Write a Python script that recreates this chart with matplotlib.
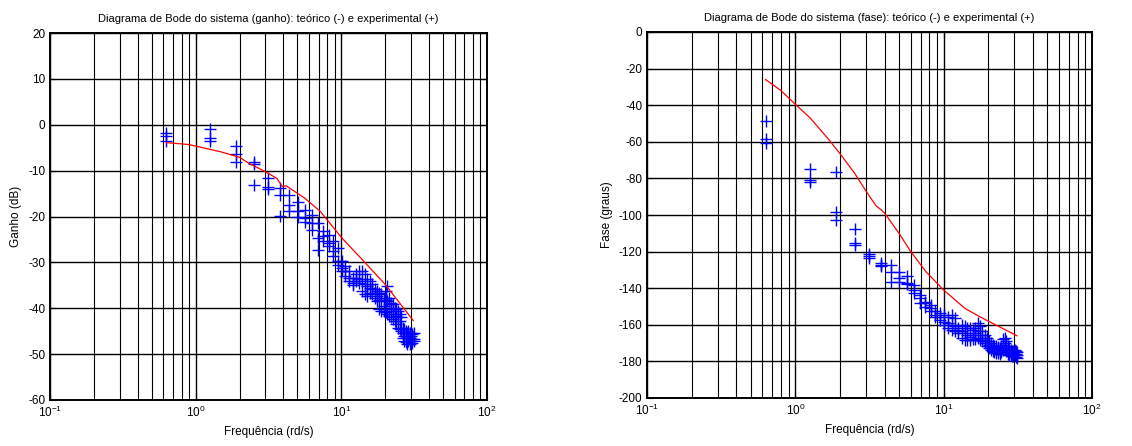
import numpy as np
import matplotlib.pyplot as plt
from matplotlib.ticker import LogLocator, NullFormatter, MultipleLocator

plt.rcParams['font.family'] = ['Liberation Sans', 'DejaVu Sans']
plt.rcParams['font.size'] = 8
plt.rcParams['axes.unicode_minus'] = False

# experimental frequencies (rad/s), 3 measurements each
wexp = [0.63, 1.26, 1.88, 2.51, 3.14, 3.77, 4.40, 5.03, 5.65, 6.28,
        6.91, 7.54, 8.17, 8.80, 9.42, 10.05, 10.68, 11.31, 11.94, 12.57,
        13.19, 13.82, 14.45, 15.08, 15.71, 16.34, 16.96, 17.59, 18.22, 18.85,
        19.48, 20.11, 20.73, 21.36, 21.99, 22.62, 23.25, 23.88, 24.50, 25.13,
        25.76, 26.39, 27.02, 27.65, 28.27, 28.90, 29.53, 30.16, 30.79, 31.42]

gain_exp = [(-1.8, -2.4, -3.6), (-1.0, -2.9, -3.6), (-4.7, -6.3, -8.1), (-8.1, -8.6, -13.1),
            (-11.7, -13.5, -14.0), (-13.7, -15.3, -19.8), (-15.3, -17.5, -18.9), (-16.9, -18.9, -20.0),
            (-18.6, -20.4, -21.1), (-19.6, -21.4, -22.9), (-21.4, -24.7, -27.2), (-23.2, -24.3, -25.4),
            (-24.0, -25.8, -26.5), (-25.4, -27.6, -28.7), (-26.9, -29.7, -30.5), (-29.7, -31.2, -31.9),
            (-30.8, -31.9, -33.0), (-31.9, -33.4, -34.1), (-33.4, -34.4, -35.0), (-32.6, -33.4, -34.1),
            (-31.9, -33.7, -34.5), (-31.9, -34.1, -36.2), (-32.6, -34.8, -37.0), (-33.7, -35.2, -37.3),
            (-34.1, -35.5, -36.6), (-34.8, -35.9, -37.0), (-35.9, -36.6, -37.7), (-36.2, -37.3, -38.4),
            (-36.6, -38.1, -40.2), (-37.0, -38.4, -40.6), (-37.7, -39.5, -40.6), (-36.2, -38.1, -40.9),
            (-35.2, -38.4, -41.3), (-37.7, -39.1, -41.7), (-38.8, -40.2, -42.0), (-39.1, -40.6, -42.4),
            (-39.9, -41.3, -42.7), (-40.2, -41.7, -43.5), (-40.6, -42.0, -44.2), (-41.3, -42.7, -44.5),
            (-42.0, -44.2, -44.9), (-44.2, -45.3, -46.4), (-44.5, -46.0, -47.1), (-44.9, -46.0, -47.4),
            (-45.3, -46.4, -47.8), (-44.9, -46.0, -47.1), (-45.3, -46.4, -47.8), (-45.3, -46.0, -47.1),
            (-45.6, -46.6, -47.5), (-45.5, -46.8, -47.2)]

fase_exp = [(-48.5, -58.5, -60.4), (-74.9, -80.9, -82.2), (-76.7, -98.2, -102.7), (-107.8, -115.1, -116.4),
            (-121.5, -122.2, -123.6), (-126.5, -127.3, -127.6), (-127.3, -130.9, -136.4), (-130.9, -134.5, -136.4),
            (-133.6, -137.3, -137.8), (-138.2, -140.9, -142.7), (-143.6, -145.5, -148.2), (-147.3, -148.2, -150.0),
            (-149.1, -150.9, -152.7), (-152.7, -154.5, -156.0), (-153.6, -155.5, -157.3), (-154.5, -158.2, -160.0),
            (-155.5, -159.1, -161.8), (-154.5, -160.0, -162.7), (-156.4, -160.9, -163.6), (-161.8, -163.0, -164.5),
            (-160.0, -163.6, -167.3), (-160.9, -164.5, -168.2), (-161.8, -165.5, -168.2), (-161.8, -166.4, -168.2),
            (-162.7, -165.5, -167.6), (-161.8, -164.5, -167.6), (-159.1, -163.6, -167.3), (-160.9, -165.5, -168.2),
            (-163.6, -167.3, -169.1), (-165.5, -169.1, -170.0), (-167.3, -170.0, -171.8), (-169.1, -170.9, -172.7),
            (-170.0, -171.8, -173.6), (-170.9, -172.7, -174.5), (-171.8, -173.1, -174.9), (-171.8, -173.6, -175.5),
            (-172.4, -173.6, -175.5), (-172.7, -174.2, -176.0), (-171.8, -173.6, -174.9), (-167.6, -170.9, -173.6),
            (-167.3, -170.0, -172.7), (-169.1, -172.7, -174.2), (-171.8, -174.2, -176.0), (-172.7, -174.5, -176.4),
            (-173.6, -175.5, -176.7), (-174.5, -176.0, -177.3), (-174.2, -175.5, -177.3), (-173.6, -174.9, -176.7),
            (-174.5, -176.0, -177.8), (-174.9, -176.4, -178.2)]

# theoretical curves
wteo_g = [0.63, 0.89, 1.49, 2.0, 2.32, 3.04, 3.61, 3.94, 4.18, 5.61, 7.17, 10.1, 14.2, 20.0, 31.2]
gain_teo = [-3.9, -4.3, -5.9, -7.1, -8.4, -10.3, -11.7, -13.5, -13.3, -16.0, -18.9, -24.7, -29.7, -34.8, -42.7]

wteo_f = [0.63, 0.8, 1.0, 1.26, 1.69, 2.0, 2.5, 3.0, 3.5, 3.77, 4.0, 5.0, 6.0, 7.6, 10.0, 13.9, 17.0, 20.0, 25.0, 31.2]
fase_teo = [-26, -32, -39.5, -47, -59, -66.5, -77, -87, -95, -97, -99, -110, -120, -131, -141, -151, -155, -158, -162, -166]


def flat(w, vals):
    xs, ys = [], []
    for wi, v in zip(w, vals):
        for vi in v:
            xs.append(wi)
            ys.append(vi)
    return xs, ys


def estilo(ax, ylo, yhi, ystep):
    ax.set_xscale('log')
    ax.set_xlim(0.1, 100)
    ax.set_ylim(ylo, yhi)
    ax.yaxis.set_major_locator(MultipleLocator(ystep))
    ax.xaxis.set_major_locator(LogLocator(base=10, numticks=10))
    ax.xaxis.set_minor_locator(LogLocator(base=10, subs=np.arange(2, 10), numticks=20))
    ax.xaxis.set_minor_formatter(NullFormatter())
    ax.grid(True, which='major', color='black', linewidth=1.0)
    ax.grid(True, which='minor', axis='x', color='black', linewidth=0.8)
    ax.tick_params(direction='in', length=4, which='both', top=True, right=True, labelsize=8.5)
    for s in ax.spines.values():
        s.set_linewidth(1.4)


fig = plt.figure(figsize=(11.32, 4.46), dpi=100)
ax1 = fig.add_axes([50 / 1132, 46 / 446, 437 / 1132, 367 / 446])
ax2 = fig.add_axes([647 / 1132, 48 / 446, 445 / 1132, 366 / 446])

x, y = flat(wexp, gain_exp)
ax1.plot(x, y, '+', color='blue', markersize=8, markeredgewidth=1.0)
ax1.plot(wteo_g, gain_teo, '-', color='red', linewidth=0.9)
estilo(ax1, -60, 20, 10)
ax1.set_title('Diagrama de Bode do sistema (ganho): teórico (-) e experimental (+)', fontsize=8, pad=8)
ax1.set_xlabel('Frequência (rd/s)', fontsize=8.5)
ax1.set_ylabel('Ganho (dB)', fontsize=8.5)

x, y = flat(wexp, fase_exp)
ax2.plot(x, y, '+', color='blue', markersize=8, markeredgewidth=1.0)
ax2.plot(wteo_f, fase_teo, '-', color='red', linewidth=0.9)
estilo(ax2, -200, 0, 20)
ax2.set_title('Diagrama de Bode do sistema (fase): teórico (-) e experimental (+)', fontsize=8, pad=8)
ax2.set_xlabel('Frequência (rd/s)', fontsize=8.5)
ax2.set_ylabel('Fase (graus)', fontsize=8.5)

fig.savefig('out.png', dpi=100)
